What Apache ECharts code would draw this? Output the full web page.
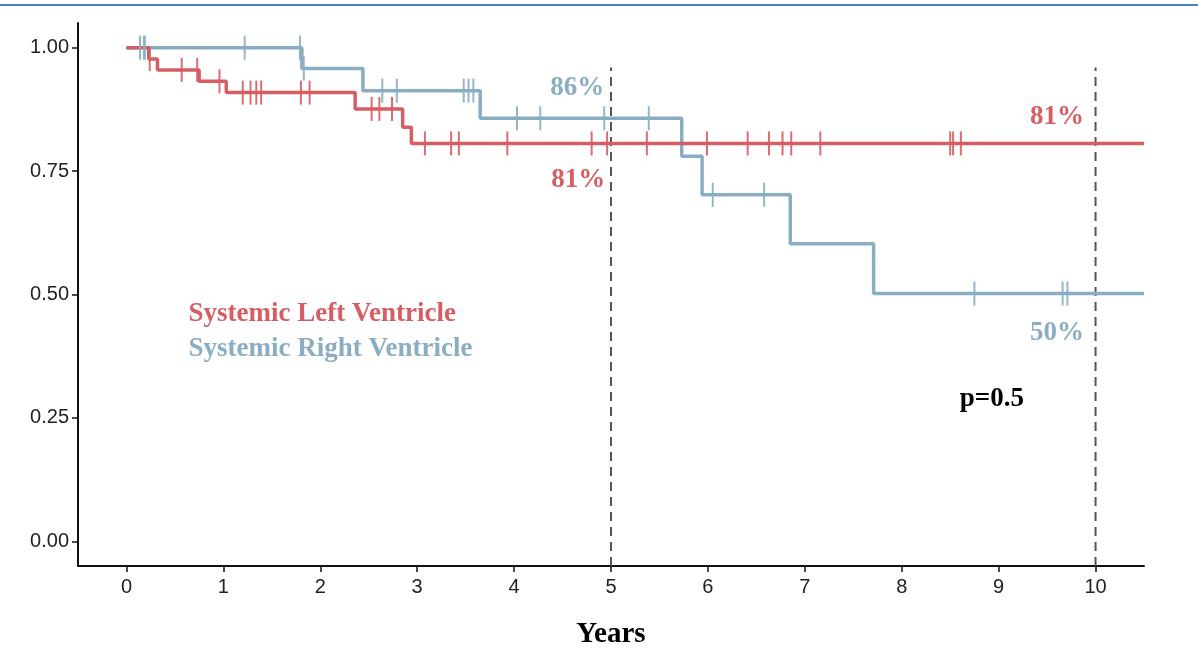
<!DOCTYPE html>
<html>
<head>
<meta charset="utf-8">
<script src="https://cdn.jsdelivr.net/npm/echarts@6/dist/echarts.min.js"></script>
<style>
html,body{margin:0;padding:0;background:#fff;}
#chart{width:1198px;height:654px;}
</style>
</head>
<body>
<div id="chart"></div>
<script>
// ---- data ----
var xTicks = [0,1,2,3,4,5,6,7,8,9,10];
var yTicks = [0,0.25,0.5,0.75,1];

var leftTimes = [0, 0.23, 0.32, 0.75, 1.03, 2.36, 2.85, 2.94, 10.5];
var leftSurv  = [1, 0.977, 0.955, 0.932, 0.909, 0.876, 0.839, 0.806, 0.806];
var leftCensor = [0.24, 0.57, 0.73, 0.96, 1.20, 1.28, 1.34, 1.39, 1.80, 1.89, 2.53, 2.61, 2.74,
                  3.08, 3.35, 3.43, 3.93, 4.80, 4.96, 5.37, 5.99, 6.41, 6.63, 6.77, 6.86, 7.16,
                  8.50, 8.53, 8.61];

var rightTimes = [0, 1.81, 2.44, 3.65, 5.73, 5.94, 6.85, 7.71, 10.5];
var rightSurv  = [1, 0.958, 0.913, 0.857, 0.780, 0.702, 0.603, 0.502, 0.502];
var rightCensor = [0.14, 0.18, 0.19, 1.22, 1.79, 1.83, 2.64, 2.79, 3.48, 3.53, 3.58, 4.03, 4.27,
                   4.93, 5.39, 6.05, 6.58, 8.75, 9.66, 9.71];

var refYears = [5, 10];
var refTop = 0.96;

var seriesNames = ['Systemic Left Ventricle', 'Systemic Right Ventricle'];
var legendPos = [[0.64, 0.460], [0.64, 0.389]];

var pctLabels = ['86%', '81%', '81%', '50%'];
var pctPos = [[4.93, 0.919], [4.94, 0.731], [9.88, 0.860], [9.88, 0.421]];
var pctSeries = [1, 0, 0, 1];

var pText = 'p=0.5';
var pPos = [8.93, 0.288];

// ---- styling ----
var RED = '#D65D63';
var BLUE = '#89AEC4';
var colors = [RED, BLUE];
var SERIF = '"Liberation Serif", "DejaVu Serif", serif';

function zip(a, b) { return a.map(function (v, i) { return [v, b[i]]; }); }
function stepAt(times, surv, t) {
  var v = surv[0];
  for (var i = 0; i < times.length; i++) { if (times[i] <= t) v = surv[i]; }
  return v;
}

var annotData = pctLabels.map(function (s, i) {
  return {
    value: pctPos[i],
    label: { formatter: s, color: colors[pctSeries[i]], align: 'right' }
  };
});
annotData.push({ value: pPos, label: { formatter: pText, color: '#000', align: 'center' } });
seriesNames.forEach(function (n, i) {
  annotData.push({ value: legendPos[i], label: { formatter: n, color: colors[i], align: 'left', fontSize: 27 } });
});

var series = [];
refYears.forEach(function (yr) {
  series.push({
    type: 'line', data: [[yr, -0.05], [yr, refTop]], symbol: 'none', silent: true,
    lineStyle: { color: '#555', width: 2, type: [9, 6] }, z: 1
  });
});
series.push({
  type: 'line', step: 'end', data: zip(rightTimes, rightSurv), symbol: 'none',
  lineStyle: { color: BLUE, width: 3.5 }, z: 2
});
series.push({
  type: 'line', step: 'end', data: zip(leftTimes, leftSurv), symbol: 'none',
  lineStyle: { color: RED, width: 3.5 }, z: 3
});
series.push({
  type: 'scatter', data: leftCensor.map(function (t) { return [t, stepAt(leftTimes, leftSurv, t)]; }),
  symbol: 'rect', symbolSize: [2, 24], itemStyle: { color: RED, opacity: 0.9 }, z: 4
});
series.push({
  type: 'scatter', data: rightCensor.map(function (t) { return [t, stepAt(rightTimes, rightSurv, t)]; }),
  symbol: 'rect', symbolSize: [2, 24], itemStyle: { color: BLUE, opacity: 0.9 }, z: 5
});
series.push({
  type: 'scatter', data: annotData, symbolSize: 0, z: 6, silent: true,
  itemStyle: { opacity: 1 },
  label: {
    show: true, position: 'inside', verticalAlign: 'middle', opacity: 1,
    fontFamily: SERIF, fontWeight: 'bold', fontSize: 27
  }
});

var chart = echarts.init(document.getElementById('chart'));
chart.setOption({
  animation: false,
  backgroundColor: '#fff',
  graphic: [{
    type: 'rect', shape: { x: 0, y: 4, width: 1198, height: 2 },
    style: { fill: '#4A80D0' }
  }],
  grid: { left: 78, right: 54, top: 23, bottom: 88, outerBoundsMode: 'none', containLabel: false },
  xAxis: {
    type: 'value', min: -0.5, max: 10.5,
    name: 'Years', nameLocation: 'middle', nameGap: 54,
    nameTextStyle: { fontFamily: SERIF, fontWeight: 'bold', fontSize: 29, color: '#000' },
    splitLine: { show: false },
    axisLine: { show: true, onZero: false, lineStyle: { color: '#111', width: 2 } },
    axisTick: { show: true, customValues: xTicks, length: 6, lineStyle: { color: '#111', width: 1.5 } },
    axisLabel: { customValues: xTicks, fontFamily: '"Liberation Sans", Arial, sans-serif', fontSize: 20, color: '#222', margin: 11 }
  },
  yAxis: {
    type: 'value', min: -0.05, max: 1.05,
    splitLine: { show: false },
    axisLine: { show: true, onZero: false, lineStyle: { color: '#111', width: 2 } },
    axisTick: { show: true, customValues: yTicks, length: 6, lineStyle: { color: '#111', width: 1.5 } },
    axisLabel: {
      customValues: yTicks, fontFamily: '"Liberation Sans", Arial, sans-serif', fontSize: 20, color: '#222', margin: 9,
      formatter: function (v) { return v.toFixed(2); }
    }
  },
  series: series
});
</script>
</body>
</html>
